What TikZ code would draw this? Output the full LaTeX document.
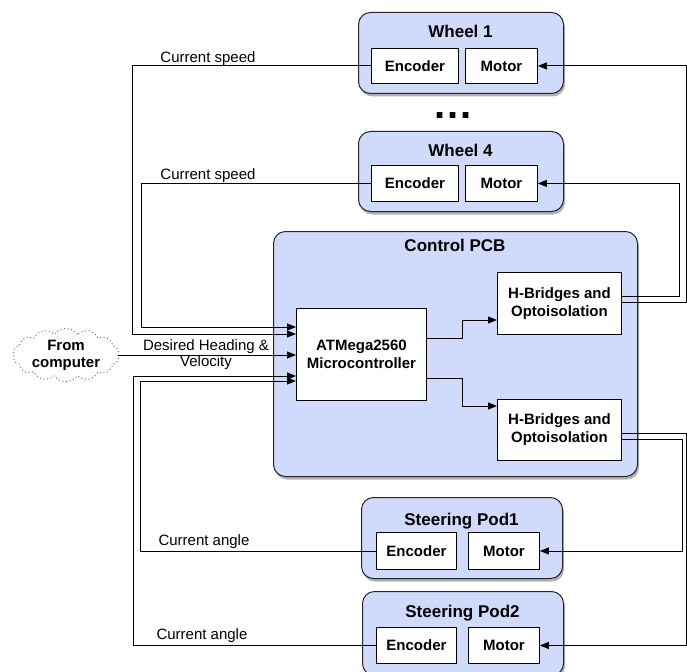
\documentclass[tikz,border=0pt]{standalone}
\usepackage{fontspec}
\setmainfont{Liberation Sans}
\usetikzlibrary{arrows.meta,shapes.symbols,shadows}
\definecolor{panel}{RGB}{208,219,252}
\begin{document}
\begin{tikzpicture}[x=1pt,y=-1pt,
  panelbox/.style={draw=black!85, line width=1pt, fill=panel, rounded corners=12pt,
    anchor=north west, inner sep=0pt,
    drop shadow={shadow xshift=1.5pt, shadow yshift=-3pt, opacity=0.3, fill=black}},
  inbox/.style={draw=black, line width=0.9pt, fill=white, anchor=north west, inner sep=0pt,
    font=\fontsize{15}{18}\selectfont\bfseries, align=center},
  title/.style={anchor=base, font=\fontsize{17}{20}\selectfont\bfseries, inner sep=0pt},
  lbl/.style={anchor=base, font=\fontsize{15}{18}\selectfont, inner sep=0pt},
  conn/.style={draw=black, line width=0.9pt},
  arr/.style={conn, -{Triangle[length=9pt,width=7pt]}},
  cloudnode/.style={cloud, cloud puffs=14, cloud puff arc=110, aspect=2.3,
    draw=black!55, line width=1pt, dash pattern=on 1pt off 2.6pt,
    minimum width=106, minimum height=44, inner sep=0pt, align=center,
    font=\fontsize{15}{17}\selectfont\bfseries}
]
\useasboundingbox (0,0) rectangle (687,671);

% Wheel 1
\node[panelbox, minimum width=205, minimum height=81] (w1) at (358,12) {};
\node[title] (w1t) at (460.5,38) {Wheel 1};
\node[inbox, minimum width=87, minimum height=35] (w1enc) at (371,48) {Encoder};
\node[inbox, minimum width=72, minimum height=35] (w1mot) at (465,48) {Motor};

% dots
\node[anchor=base, font=\fontsize{40}{40}\selectfont\bfseries, inner sep=0pt] (dots) at (453,119) {.\kern2pt.\kern2pt.};

% Wheel 4
\node[panelbox, minimum width=205, minimum height=80] (w4) at (358,131) {};
\node[title] (w4t) at (460.5,157) {Wheel 4};
\node[inbox, minimum width=87, minimum height=36] (w4enc) at (371,165) {Encoder};
\node[inbox, minimum width=72, minimum height=36] (w4mot) at (465,165) {Motor};

% Control PCB
\node[panelbox, minimum width=364, minimum height=245] (pcb) at (273,231) {};
\node[title] (pcbt) at (455,251) {Control PCB};
\node[inbox, minimum width=130, minimum height=92] (atm) at (296,308) {ATMega2560\\Microcontroller};
\node[inbox, minimum width=124, minimum height=62] (hb1) at (497,272) {H-Bridges and\\Optoisolation};
\node[inbox, minimum width=124, minimum height=61] (hb2) at (497,399) {H-Bridges and\\Optoisolation};

% Steering Pod 1
\node[panelbox, minimum width=201, minimum height=81] (p1) at (361,497) {};
\node[title] (p1t) at (461.5,525) {Steering Pod1};
\node[inbox, minimum width=80, minimum height=37] (p1enc) at (376,532) {Encoder};
\node[inbox, minimum width=71, minimum height=37] (p1mot) at (468,532) {Motor};

% Steering Pod 2
\node[panelbox, minimum width=201, minimum height=84] (p2) at (362,591) {};
\node[title] (p2t) at (462.5,617) {Steering Pod2};
\node[inbox, minimum width=80, minimum height=36] (p2enc) at (376,627) {Encoder};
\node[inbox, minimum width=71, minimum height=36] (p2mot) at (468,627) {Motor};

% From computer
\node[cloudnode] (comp) at (66,355) {From\\computer};

% feedback from encoders
\coordinate (a1) at (132,334);
\draw[arr] (w1enc.west) -| (a1) -- (a1 -| atm.west);
\coordinate (a4) at (141,327);
\draw[arr] (w4enc.west) -| (a4) -- (a4 -| atm.west);
\coordinate (s1) at (140,381);
\draw[arr] (p1enc.west) -| (s1) -- (s1 -| atm.west);
\coordinate (s2) at (133,376);
\draw[arr] (p2enc.west) -| (s2) -- (s2 -| atm.west);
\draw[arr] (comp.east) -- (comp.east -| atm.west);

% labels
\node[lbl] (l1) at (208,63) {Current speed};
\node[lbl] (l4) at (208,179) {Current speed};
\node[lbl] (l5) at (204,545) {Current angle};
\node[lbl] (l6) at (202,639) {Current angle};
\node[align=center, inner sep=0pt, font=\fontsize{15}{16}\selectfont] (dh) at (206,355) {Desired Heading \&\\Velocity};

% microcontroller to H-bridges
\coordinate (m1) at (462,338);
\coordinate (m1b) at (462,320);
\draw[arr] (m1 -| atm.east) -- (m1) -- (m1b) -- (m1b -| hb1.west);
\coordinate (m2) at (462,378);
\coordinate (m2b) at (462,406);
\draw[arr] (m2 -| atm.east) -- (m2) -- (m2b) -- (m2b -| hb2.west);

% H-bridges to motors
\coordinate (h1a) at (679,296);
\draw[arr] (h1a -| hb1.east) -- (h1a) |- (w4mot.east);
\coordinate (h1b) at (686,302);
\draw[arr] (h1b -| hb1.east) -- (h1b) |- (w1mot.east);
\coordinate (h2a) at (686,433);
\draw[arr] (h2a -| hb2.east) -- (h2a) |- (p2mot.east);
\coordinate (h2b) at (682,439);
\draw[arr] (h2b -| hb2.east) -- (h2b) |- (p1mot.east);
\end{tikzpicture}
\end{document}
